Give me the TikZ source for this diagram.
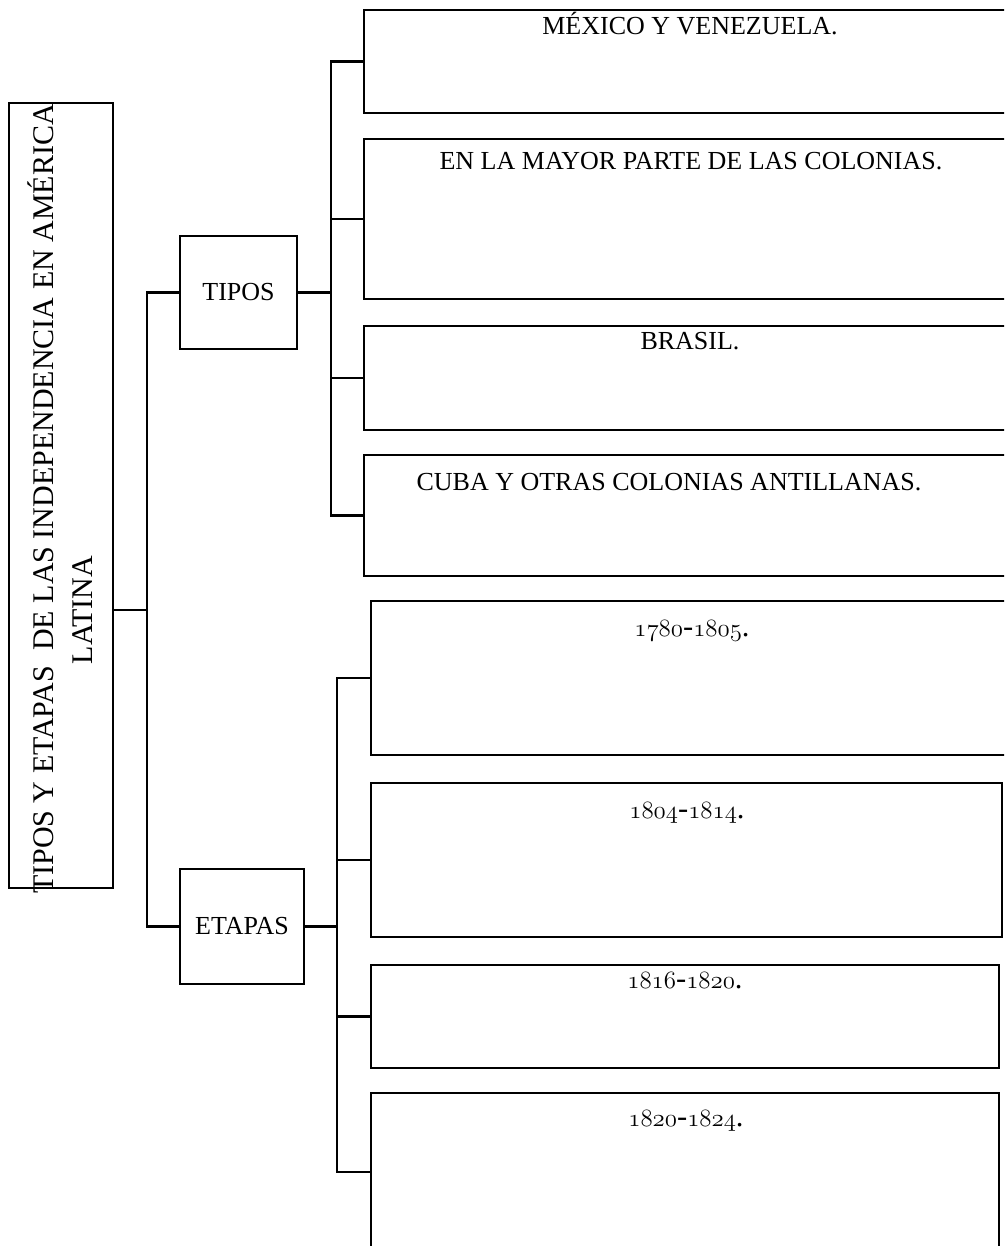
\documentclass[tikz,border=0pt]{standalone}
\usepackage{fontspec}
\setmainfont{Liberation Serif}
\newcommand{\osf}[1]{{\usefont{OML}{lmm}{m}{it}#1}}
\begin{document}
\begin{tikzpicture}[x=1pt,y=-1pt,
  box/.style={draw=black, line width=2.2pt, fill=white, inner sep=0pt, outer sep=0pt, rectangle},
  conn/.style={draw=black, line width=2.2pt},
  thickconn/.style={draw=black, line width=3pt},
  lbl/.style={font=\fontsize{26}{30}\selectfont, inner sep=0pt, anchor=base},
  datelbl/.style={font=\fontsize{30.5}{34}\selectfont, inner sep=0pt, anchor=base},
  midlbl/.style={font=\fontsize{26}{30}\selectfont},
  titlelbl/.style={font=\fontsize{30}{36}\selectfont, rotate=90, anchor=base, inner sep=0pt}
]
\useasboundingbox (0,0) rectangle (1004,1246);
\fill[white] (0,0) rectangle (1004,1246);
\clip (0,0) rectangle (1004,1246);

% junction coordinates
\coordinate (mj) at (147,610);
\coordinate (tj) at (331,292.5);
\coordinate (ej) at (337,926.5);

% boxes
\node[box, minimum width=104pt, minimum height=785pt] (main) at (61,495.5) {};
\node[box, midlbl, minimum width=117pt, minimum height=113pt] (tipos) at (238.5,292.5) {TIPOS};
\node[box, midlbl, minimum width=124pt, minimum height=115pt] (etapas) at (242,926.5) {ETAPAS};

\node[box, minimum width=648pt, minimum height=103pt] (r1) at (688,61.5) {};
\node[box, minimum width=648pt, minimum height=160pt] (r2) at (688,219) {};
\node[box, minimum width=648pt, minimum height=104pt] (r3) at (688,378) {};
\node[box, minimum width=648pt, minimum height=121pt] (r4) at (688,515.5) {};

\node[box, minimum width=641pt, minimum height=154pt] (e1) at (691.5,678) {};
\node[box, minimum width=631pt, minimum height=154pt] (e2) at (686.5,860) {};
\node[box, minimum width=628pt, minimum height=103pt] (e3) at (685,1016.5) {};
\node[box, minimum width=628pt, minimum height=158pt] (e4) at (685,1172) {};

% connectors
\draw[conn] (mj -| main.east) -- (mj);
\draw[conn] (tipos.west) -| (mj);
\draw[conn] (etapas.west) -| (mj);

\draw[thickconn] (tipos.east) -- (tj);
\draw[conn] (r1.west) -| (tj);
\draw[conn] (r4.west) -| (tj);
\draw[conn] (r2.west) -- (r2.west -| tj);
\draw[conn] (r3.west) -- (r3.west -| tj);

\draw[thickconn] (etapas.east) -- (ej);
\draw[conn] (e1.west) -| (ej);
\draw[conn] (e4.west) -| (ej);
\draw[conn] (e2.west) -- (e2.west -| ej);
\draw[conn] (e3.west) -- (e3.west -| ej);

% title
\node[titlelbl] (title1) at (53,499) {TIPOS Y ETAPAS\ \ DE LAS INDEPENDENCIA EN AMÉRICA};
\node[titlelbl] (title2) at (92,610) {LATINA};

% labels
\node[lbl] (t1) at (690,35) {MÉXICO Y VENEZUELA.};
\node[lbl] (t2) at (691,170) {EN LA MAYOR PARTE DE LAS COLONIAS.};
\node[lbl] (t3) at (690,349) {BRASIL.};
\node[lbl] (t4) at (669,490) {CUBA Y OTRAS COLONIAS ANTILLANAS.};

\node[datelbl] (d1) at (692,636) {\osf{1780}-\osf{1805}.};
\node[datelbl] (d2) at (687,818) {\osf{1804}-\osf{1814}.};
\node[datelbl] (d3) at (685,988) {\osf{1816}-\osf{1820}.};
\node[datelbl] (d4) at (686,1126) {\osf{1820}-\osf{1824}.};
\end{tikzpicture}
\end{document}
